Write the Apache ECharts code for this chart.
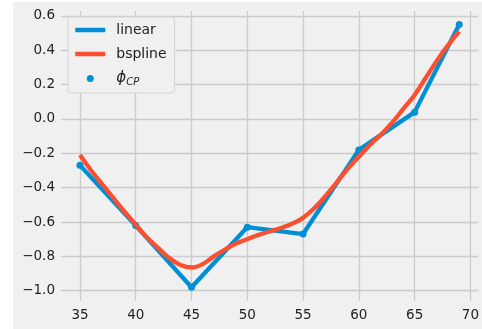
<!DOCTYPE html>
<html><head><meta charset="utf-8">
<script src="https://cdn.jsdelivr.net/npm/echarts@6/dist/echarts.min.js"></script>
<style>
html,body{margin:0;padding:0;background:#fff;width:482px;height:329px;overflow:hidden}
#c{position:absolute;left:13px;top:2px;width:469px;height:327px;background:#f0f0f0}
</style></head><body>
<div id="c"></div>
<script>
// Control points (linear interpolation)
const cpX = [35, 40, 45, 50, 55, 60, 65, 69];
const cpY = [-0.27, -0.62, -0.98, -0.63, -0.67, -0.18, 0.04, 0.55];
// B-spline curve samples
const bsX = [35,36,37,38,39,40,41,42,43,44,45,46,47,48,49,50,51,52,53,54,55,56,57,58,59,60,61,62,63,64,65,66,67,68,69];
const bsY = [-0.21,-0.30,-0.38,-0.46,-0.54,-0.615,-0.69,-0.75,-0.81,-0.85,-0.865,-0.845,-0.80,-0.76,-0.725,-0.70,-0.675,-0.655,-0.635,-0.61,-0.575,-0.52,-0.45,-0.37,-0.29,-0.22,-0.15,-0.09,-0.02,0.06,0.14,0.24,0.34,0.43,0.51];
const xTicks = [35, 40, 45, 50, 55, 60, 65, 70];
const yTicks = [-1.0, -0.8, -0.6, -0.4, -0.2, 0.0, 0.2, 0.4, 0.6];
const names = ['linear', 'bspline', 'phiCP'];

const zip = (a, b) => a.map((v, i) => [v, b[i]]);
const font = 'DejaVu Sans';
const chart = echarts.init(document.getElementById('c'), null, {renderer: 'canvas'});
chart.setOption({
  animation: false,
  backgroundColor: '#f0f0f0',
  grid: {left: 48, right: 1, top: 9, bottom: 28, containLabel: false},
  xAxis: {
    type: 'value', min: 33.3, max: 70.7,
    axisLine: {show: false},
    axisTick: {show: false, customValues: xTicks},
    axisLabel: {customValues: xTicks, color: '#222', fontFamily: font, fontSize: 13.5, margin: 7,
      formatter: v => String(v)},
    splitLine: {show: true, lineStyle: {color: '#cbcbcb', width: 1.3}}
  },
  yAxis: {
    type: 'value', min: -1.06, max: 0.629,
    axisLine: {show: false},
    axisTick: {show: false, customValues: yTicks},
    axisLabel: {customValues: yTicks, color: '#222', fontFamily: font, fontSize: 13.5, margin: 6,
      formatter: v => v.toFixed(1).replace('-', '\u2212')},
    splitLine: {show: true, lineStyle: {color: '#cbcbcb', width: 1.3}}
  },
  legend: {
    left: 55, top: 15, orient: 'vertical',
    padding: [6, 8, 6, 5], itemGap: 10, itemWidth: 30, itemHeight: 7,
    backgroundColor: '#f0f0f0', borderColor: '#d4d4d4', borderWidth: 1, borderRadius: 3,
    data: [
      {name: 'linear', itemStyle: {opacity: 0}, lineStyle: {width: 4.5, color: '#008fd5'}},
      {name: 'bspline', itemStyle: {opacity: 0}, lineStyle: {width: 4.5, color: '#fc4f30'}},
      {name: 'phiCP', icon: 'circle'}
    ],
    textStyle: {
      fontFamily: font, fontSize: 14, color: '#222', padding: [0, 0, 0, 6],
      rich: {
        phi: {fontFamily: font, fontSize: 15, fontStyle: 'italic', color: '#222'},
        sub: {fontFamily: font, fontSize: 10, fontStyle: 'italic', color: '#222', padding: [7, 0, 0, 0]}
      }
    },
    formatter: n => n === 'phiCP' ? '{phi|\u03D5}{sub|CP}' : n
  },
  series: [
    {name: 'phiCP', type: 'scatter', data: zip(cpX, cpY), symbolSize: 7, z: 1,
      itemStyle: {color: '#008fd5', opacity: 1}},
    {name: 'linear', type: 'line', data: zip(cpX, cpY), showSymbol: false, symbol: 'none', z: 2,
      lineStyle: {color: '#008fd5', width: 4.3}, itemStyle: {color: '#008fd5'}},
    {name: 'bspline', type: 'line', data: zip(bsX, bsY), showSymbol: false, symbol: 'none', smooth: 0.3, z: 3,
      lineStyle: {color: '#fc4f30', width: 4.3}, itemStyle: {color: '#fc4f30'}}
  ]
});
</script>
</body></html>
